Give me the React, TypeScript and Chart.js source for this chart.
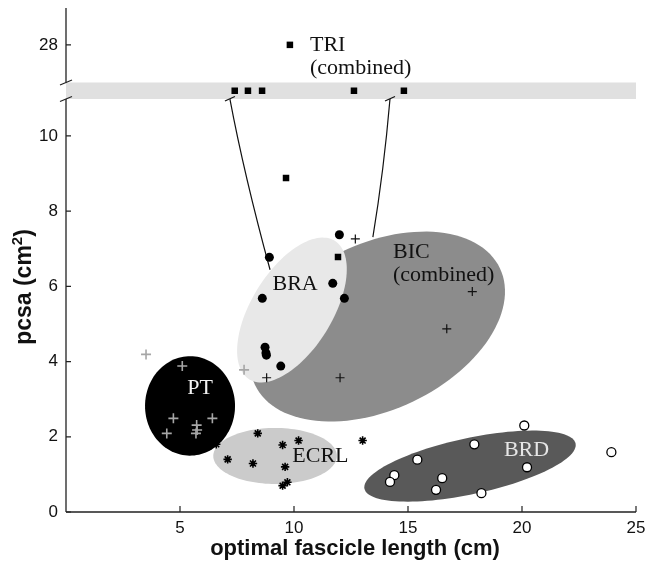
import React, { useEffect, useRef } from 'react';
import { Chart, registerables } from 'chart.js';
Chart.register(...registerables);

// ---- axis setup ----
const xTickValues = [5, 10, 15, 20, 25];
const yTickValues = [0, 2, 4, 6, 8, 10];
const upperTickLabel = 28;        // the single tick above the axis break
const UPPER_TICK_POS = 12.42;     // where "28" sits on the broken axis
const BAND_LOW = 10.98;
const BAND_HIGH = 11.42;
const BAND_Y = 11.2;              // TRI values that fall inside the break band
const X_MAX = 25;
const Y_MAX = 13.4;

// ---- data (optimal fascicle length cm, pcsa cm^2) ----
const triBandX = [7.4, 7.98, 8.6, 12.63, 14.82];
const triUpperX = [9.82];
const triUpperY = [28];
const triLowX = [9.65, 11.93];
const triLowY = [8.88, 6.78];

const braX = [11.99, 8.92, 11.7, 12.21, 8.61, 8.73, 8.77, 8.79, 9.42];
const braY = [7.37, 6.77, 6.08, 5.68, 5.68, 4.38, 4.23, 4.17, 3.88];

const bicX = [12.69, 17.82, 16.7, 12.02, 8.8];
const bicY = [7.26, 5.86, 4.87, 3.57, 3.57];

const ptX = [3.51, 5.1, 7.81, 4.71, 6.42, 4.42, 5.73, 5.75, 5.7];
const ptY = [4.19, 3.88, 3.78, 2.49, 2.49, 2.09, 2.31, 2.18, 2.09];

const ecrlX = [8.41, 9.5, 10.2, 13.01, 6.59, 7.09, 8.2, 9.61, 9.71, 9.5];
const ecrlY = [2.09, 1.78, 1.9, 1.9, 1.8, 1.4, 1.29, 1.2, 0.79, 0.7];

const brdX = [20.1, 17.91, 15.41, 14.4, 14.21, 16.5, 16.23, 18.22, 20.22, 23.92];
const brdY = [2.3, 1.8, 1.39, 0.98, 0.8, 0.9, 0.59, 0.5, 1.19, 1.59];

// ellipses: centre + two semi-axis vectors, in data units
const bicEllipse = [13.66, 4.93, 5.37, 1.553, 1.566, -1.992];
const braEllipse = [9.91, 5.37, 1.88, 1.84, 1.5, -0.57];
const ptEllipse = [5.44, 2.82, 1.97, -0.08, 0.12, 1.32];
const ecrlEllipse = [9.17, 1.49, 2.71, 0.0, 0.0, 0.745];
const brdEllipse = [17.72, 1.22, 4.63, 0.6, 0.25, -0.73];

// connector curves from the break band (start, control, end)
const leftConnector = [7.19, BAND_LOW, 7.81, 8.98, 8.95, 6.44];
const rightConnector = [14.21, BAND_LOW, 13.94, 9.07, 13.46, 7.31];

// labels: text, x, y (data units)
const labelTexts = ['TRI', '(combined)', 'BRA', 'BIC', '(combined)', 'PT', 'ECRL', 'BRD'];
const labelX = [10.7, 10.7, 10.05, 14.34, 14.34, 5.88, 11.16, 20.2];
const labelY = [12.42, 11.81, 6.06, 6.91, 6.3, 3.3, 1.48, 1.65];

const pts = (xs: number[], ys: number[]) => xs.map((v, i) => ({ x: v, y: ys[i] }));

export default function App() {
  const ref = useRef<HTMLCanvasElement | null>(null);

  useEffect(() => {
    if (!ref.current) return;
    const serif = '"Liberation Serif", "Times New Roman", serif';
    const sans = '"Liberation Sans", Arial, Helvetica, sans-serif';

    const overlay = {
      id: 'overlay',
      beforeDatasetsDraw(chart: any) {
        const { ctx, scales } = chart;
        const xs = scales.x, ys = scales.y;
        const X = (v: number) => xs.getPixelForValue(v);
        const Y = (v: number) => ys.getPixelForValue(v);
        ctx.save();
        // break band
        ctx.fillStyle = '#e0e0e0';
        ctx.fillRect(X(0), Y(BAND_HIGH), X(X_MAX) - X(0), Y(BAND_LOW) - Y(BAND_HIGH));

        const drawEllipse = (e: number[], color: string) => {
          ctx.beginPath();
          const n = 120;
          for (let i = 0; i <= n; i++) {
            const t = (i / n) * Math.PI * 2;
            const dx = e[0] + Math.cos(t) * e[2] + Math.sin(t) * e[4];
            const dy = e[1] + Math.cos(t) * e[3] + Math.sin(t) * e[5];
            if (i === 0) ctx.moveTo(X(dx), Y(dy));
            else ctx.lineTo(X(dx), Y(dy));
          }
          ctx.closePath();
          ctx.fillStyle = color;
          ctx.fill();
        };
        drawEllipse(bicEllipse, '#8c8c8c');
        drawEllipse(braEllipse, '#e8e8e8');
        drawEllipse(ptEllipse, '#000000');
        drawEllipse(ecrlEllipse, '#cbcbcb');
        drawEllipse(brdEllipse, '#595959');

        // connectors
        ctx.strokeStyle = '#111';
        ctx.lineWidth = 1.2;
        for (const c of [leftConnector, rightConnector]) {
          ctx.beginPath();
          ctx.moveTo(X(c[0]), Y(c[1]));
          ctx.quadraticCurveTo(X(c[2]), Y(c[3]), X(c[4]), Y(c[5]));
          ctx.stroke();
          const sx = X(c[0]), sy = Y(c[1]);
          ctx.beginPath();
          ctx.moveTo(sx - 5, sy + 2);
          ctx.lineTo(sx + 5, sy - 2.5);
          ctx.stroke();
        }

        // axes
        const ax = X(0), by = Y(0);
        ctx.strokeStyle = '#222';
        ctx.lineWidth = 1.3;
        ctx.beginPath();
        ctx.moveTo(ax, by);
        ctx.lineTo(X(X_MAX), by);
        ctx.moveTo(ax, by);
        ctx.lineTo(ax, Y(BAND_LOW));
        ctx.moveTo(ax, Y(BAND_HIGH));
        ctx.lineTo(ax, Y(Y_MAX));
        ctx.stroke();
        // break slashes
        ctx.lineWidth = 1.2;
        for (const v of [BAND_LOW, BAND_HIGH]) {
          const yy = Y(v);
          ctx.beginPath();
          ctx.moveTo(ax - 6, yy + 2.5);
          ctx.lineTo(ax + 6, yy - 2.5);
          ctx.stroke();
        }
        // inward ticks
        ctx.beginPath();
        for (const v of [...yTickValues, UPPER_TICK_POS]) {
          ctx.moveTo(ax, Y(v));
          ctx.lineTo(ax + 5, Y(v));
        }
        for (const v of xTickValues) {
          ctx.moveTo(X(v), by);
          ctx.lineTo(X(v), by - 6);
        }
        ctx.stroke();
        ctx.restore();
      },
      afterDatasetsDraw(chart: any) {
        const { ctx, scales } = chart;
        const xs = scales.x, ys = scales.y;
        const X = (v: number) => xs.getPixelForValue(v);
        const Y = (v: number) => ys.getPixelForValue(v);
        ctx.save();
        ctx.font = `22px ${serif}`;
        ctx.textBaseline = 'middle';
        const colors = ['#111', '#111', '#111', '#111', '#111', '#f2f2f2', '#111', '#e6e6e6'];
        const aligns = ['left', 'left', 'center', 'left', 'left', 'center', 'center', 'center'];
        labelTexts.forEach((t, i) => {
          ctx.fillStyle = colors[i];
          ctx.textAlign = aligns[i];
          ctx.fillText(t, X(labelX[i]), Y(labelY[i]));
        });

        // axis titles
        ctx.fillStyle = '#111';
        ctx.font = `bold 22px ${sans}`;
        ctx.textAlign = 'center';
        ctx.textBaseline = 'middle';
        const area = chart.chartArea;
        ctx.fillText('optimal fascicle length (cm)', (area.left + area.right) / 2 + 4, 549);

        ctx.translate(31, 287);
        ctx.rotate(-Math.PI / 2);
        ctx.textBaseline = 'alphabetic';
        const big = `bold 23px ${sans}`;
        const small = `bold 15px ${sans}`;
        ctx.font = big;
        const w1 = ctx.measureText('pcsa (cm').width;
        const w3 = ctx.measureText(')').width;
        ctx.font = small;
        const w2 = ctx.measureText('2').width;
        let sx = -(w1 + w2 + w3) / 2;
        ctx.textAlign = 'left';
        ctx.font = big;
        ctx.fillText('pcsa (cm', sx, 0);
        sx += w1;
        ctx.font = small;
        ctx.fillText('2', sx, -9);
        sx += w2;
        ctx.font = big;
        ctx.fillText(')', sx, 0);
        ctx.restore();
      },
    };

    const chart = new Chart(ref.current, {
      type: 'scatter',
      data: {
        datasets: [
          {
            label: 'BRD',
            data: pts(brdX, brdY),
            pointStyle: 'circle',
            pointRadius: 4.5,
            backgroundColor: '#ffffff',
            borderColor: '#000000',
            borderWidth: 1.3,
          },
          {
            label: 'ECRL',
            data: pts(ecrlX, ecrlY),
            pointStyle: 'star',
            pointRadius: 4.2,
            borderColor: '#000000',
            borderWidth: 1.6,
          },
          {
            label: 'PT',
            data: pts(ptX, ptY),
            pointStyle: 'cross',
            pointRadius: 5,
            borderColor: '#a6a6a6',
            borderWidth: 1.6,
          },
          {
            label: 'BIC',
            data: pts(bicX, bicY),
            pointStyle: 'cross',
            pointRadius: 4.5,
            borderColor: '#111111',
            borderWidth: 1.2,
          },
          {
            label: 'BRA',
            data: pts(braX, braY),
            pointStyle: 'circle',
            pointRadius: 4.5,
            backgroundColor: '#000000',
            borderColor: '#000000',
            borderWidth: 0,
          },
          {
            label: 'TRI',
            data: [
              ...triBandX.map((v) => ({ x: v, y: BAND_Y })),
              ...triUpperX.map((v, i) => ({ x: v, y: UPPER_TICK_POS + (triUpperY[i] - upperTickLabel) * 0.1 })),
              ...pts(triLowX, triLowY),
            ],
            pointStyle: 'rect',
            pointRadius: 4.6,
            backgroundColor: '#000000',
            borderColor: '#000000',
            borderWidth: 0,
          },
        ],
      },
      options: {
        animation: false,
        responsive: false,
        maintainAspectRatio: false,
        layout: { padding: { left: 0, right: 12, top: 8, bottom: 0 } },
        plugins: { legend: { display: false }, tooltip: { enabled: false } },
        scales: {
          x: {
            type: 'linear',
            min: 0,
            max: X_MAX,
            grid: { display: false, drawTicks: false },
            border: { display: false },
            afterBuildTicks: (s: any) => {
              s.ticks = xTickValues.map((v) => ({ value: v }));
            },
            afterFit: (s: any) => {
              s.height = 54;
              s.paddingLeft = 0;
              s.paddingRight = 0;
              s.paddingTop = 0;
              s.paddingBottom = 0;
            },
            ticks: {
              color: '#111',
              font: { family: sans, size: 17 },
              padding: 6,
              maxRotation: 0,
              autoSkip: false,
            },
          },
          y: {
            type: 'linear',
            min: 0,
            max: Y_MAX,
            grid: { display: false, drawTicks: false },
            border: { display: false },
            afterBuildTicks: (s: any) => {
              s.ticks = [...yTickValues, UPPER_TICK_POS].map((v) => ({ value: v }));
            },
            afterFit: (s: any) => {
              s.width = 66;
              s.paddingLeft = 0;
              s.paddingRight = 0;
              s.paddingTop = 0;
              s.paddingBottom = 0;
            },
            ticks: {
              color: '#111',
              font: { family: sans, size: 17 },
              padding: 8,
              autoSkip: false,
              callback: (v: any) => (Number(v) > BAND_HIGH ? String(upperTickLabel) : String(v)),
            },
          },
        },
      },
      plugins: [overlay],
    } as any);
    return () => chart.destroy();
  }, []);

  return (
    <div style={{ position: 'absolute', left: 0, top: 0, width: 648, height: 566, background: '#fff' }}>
      <canvas ref={ref} width={648} height={566} style={{ width: 648, height: 566, display: 'block' }} />
    </div>
  );
}
